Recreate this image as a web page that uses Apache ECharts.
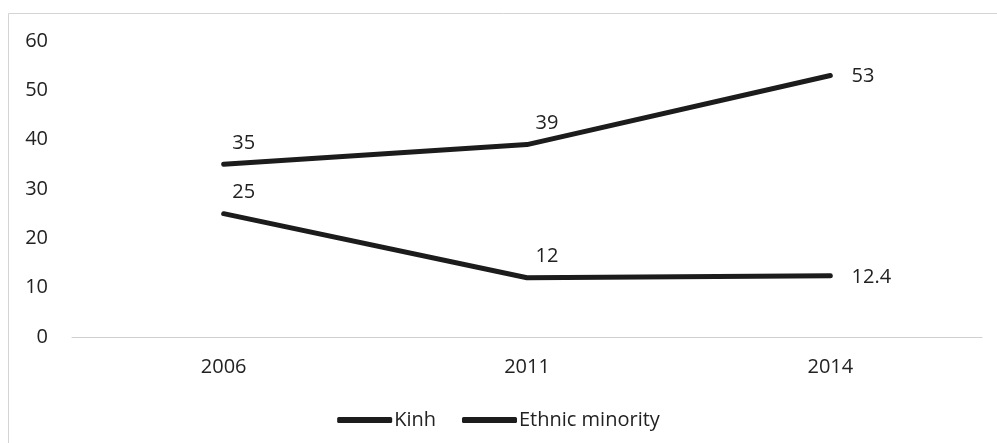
<!DOCTYPE html>
<html>
<head>
<meta charset="utf-8">
<script src="https://cdn.jsdelivr.net/npm/echarts@6/dist/echarts.min.js"></script>
<style>
  html, body { margin: 0; padding: 0; background: #fff; }
  #chart { width: 997px; height: 443px; }
</style>
</head>
<body>
<div id="chart"></div>
<script>
const years = ['2006', '2011', '2014'];
const kinh = [25, 12, 12.4];
const ethnicMinority = [35, 39, 53];

const font = '"Open Sans", "Noto Sans", sans-serif';
const textColor = '#222';
const lineColor = '#1c1c1c';
const chart = echarts.init(document.getElementById('chart'));

// label above-right for inner points, to the right for the last one
function labelled(values) {
  return values.map(function (v, i) {
    if (i === values.length - 1) {
      return { value: v, label: { position: 'right', distance: 21, offset: [0, 1] } };
    }
    return { value: v };
  });
}

function lineSeries(name, values) {
  return {
    name: name,
    type: 'line',
    data: labelled(values),
    showSymbol: true,
    symbol: 'circle',
    symbolSize: 0.5,
    lineStyle: { color: lineColor, width: 5, cap: 'round', join: 'round' },
    itemStyle: { color: lineColor },
    label: {
      show: true,
      position: 'top',
      distance: 5,
      offset: [20, -6],
      color: textColor,
      fontSize: 20,
      fontFamily: font
    },
    emphasis: { disabled: true },
    animation: false
  };
}

chart.setOption({
  backgroundColor: '#fff',
  graphic: [{
    type: 'rect',
    shape: { x: 8.5, y: 13.5, width: 1100, height: 600 },
    style: { fill: 'none', stroke: '#d4d4d4', lineWidth: 1 },
    silent: true
  }],
  grid: { left: 72, right: 15, top: 41, bottom: 106 },
  xAxis: {
    type: 'category',
    data: years,
    axisLine: { lineStyle: { color: '#d0d0d0', width: 1 } },
    axisTick: { show: false },
    axisLabel: { color: textColor, fontSize: 20, fontFamily: font, margin: 20 }
  },
  yAxis: {
    type: 'value',
    min: 0,
    max: 60,
    interval: 10,
    splitLine: { show: false },
    axisLine: { show: false },
    axisTick: { show: false },
    axisLabel: { color: textColor, fontSize: 20, fontFamily: font, margin: 24 }
  },
  legend: {
    bottom: 8,
    left: 'center',
    icon: 'roundRect',
    itemWidth: 55,
    itemHeight: 6,
    itemGap: 26,
    itemStyle: { color: lineColor, opacity: 1 },
    textStyle: { color: textColor, fontSize: 20, fontFamily: font, padding: [0, 0, 0, -3] },
    data: ['Kinh', 'Ethnic minority']
  },
  series: [
    lineSeries('Kinh', kinh),
    lineSeries('Ethnic minority', ethnicMinority)
  ]
});
</script>
</body>
</html>
